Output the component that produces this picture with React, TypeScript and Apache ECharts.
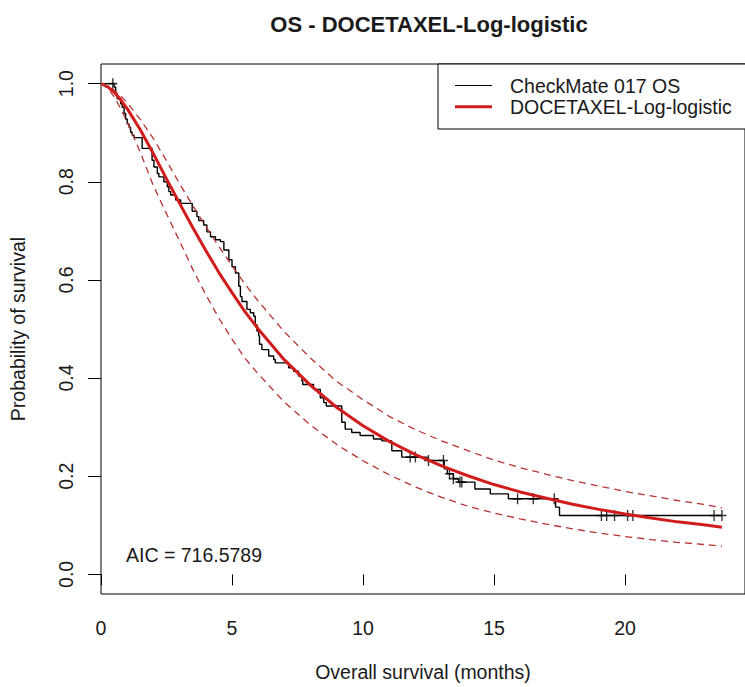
import React, { useEffect, useRef } from "react";
import * as echarts from "echarts";

const TITLE = "OS - DOCETAXEL-Log-logistic";
const X_NAME = "Overall survival (months)";
const Y_NAME = "Probability of survival";
const LEGEND_LABELS = ["CheckMate 017 OS", "DOCETAXEL-Log-logistic"];
const AIC_TEXT = "AIC = 716.5789";
const X_TICKS = [0, 5, 10, 15, 20];
const Y_TICKS = [0, 0.2, 0.4, 0.6, 0.8, 1.0];

// Kaplan-Meier steps (time in months, survival after the drop)
const kmTimes = [
  0, 0.5, 0.56, 0.62, 0.75, 0.81, 0.88, 0.94, 1.0, 1.07, 1.13, 1.19, 1.26, 1.57,
  1.95, 2.02, 2.15, 2.21, 2.4, 2.53, 2.59, 2.66, 2.85, 3.04, 3.48, 3.66, 3.73,
  3.92, 4.04, 4.18, 4.37, 4.56, 4.69, 4.88, 5.0, 5.13, 5.26, 5.32, 5.38, 5.57,
  5.7, 5.83, 5.89, 5.95, 6.02, 6.05, 6.14, 6.4, 6.59, 6.65, 7.16, 7.35, 7.54,
  7.67, 7.7, 8.11, 8.37, 8.5, 8.6, 9.19, 9.32, 9.57, 9.89, 10.4, 10.72, 11.1,
  11.48, 12.45, 13.1, 13.22, 13.45, 13.65, 14.27, 14.86, 15.55, 17.35, 17.5, 23.7,
];
const kmSurv = [
  1.0, 0.993, 0.979, 0.969, 0.959, 0.952, 0.939, 0.928, 0.918, 0.911, 0.901, 0.895,
  0.89, 0.868, 0.844, 0.83, 0.817, 0.81, 0.8, 0.79, 0.78, 0.773, 0.763, 0.756,
  0.74, 0.729, 0.721, 0.712, 0.698, 0.688, 0.682, 0.678, 0.661, 0.641, 0.627,
  0.614, 0.587, 0.566, 0.556, 0.54, 0.533, 0.526, 0.509, 0.496, 0.486, 0.469,
  0.458, 0.445, 0.438, 0.431, 0.421, 0.414, 0.404, 0.394, 0.387, 0.377, 0.36,
  0.35, 0.343, 0.31, 0.296, 0.289, 0.283, 0.276, 0.272, 0.252, 0.239, 0.232,
  0.215, 0.205, 0.195, 0.188, 0.174, 0.164, 0.154, 0.137, 0.12, 0.12,
];

// Censored observations
const censorTimes = [
  0.45, 11.8, 12.0, 12.5, 13.07, 13.3, 13.45, 13.7, 13.77, 15.9, 16.5, 17.3,
  19.1, 19.3, 19.6, 20.1, 20.3, 23.4, 23.7,
];
const censorSurv = [
  1.0, 0.239, 0.239, 0.232, 0.232, 0.205, 0.195, 0.188, 0.188, 0.154, 0.154, 0.154,
  0.12, 0.12, 0.12, 0.12, 0.12, 0.12, 0.12,
];

// Fitted log-logistic curve and its confidence band
const fitTimes = [
  0, 0.25, 0.5, 0.75, 1, 1.5, 2, 2.5, 3, 3.5, 4, 4.5, 5, 5.5, 6, 7, 8, 9, 10, 11,
  12, 13, 14, 15, 16, 17, 18, 19, 20, 21, 22, 23, 23.7,
];
const fitSurv = [
  1.0, 0.994, 0.983, 0.967, 0.949, 0.906, 0.857, 0.806, 0.756, 0.707, 0.66, 0.615,
  0.574, 0.535, 0.5, 0.437, 0.385, 0.34, 0.303, 0.271, 0.244, 0.221, 0.201, 0.183,
  0.168, 0.155, 0.143, 0.1325, 0.123, 0.115, 0.107, 0.101, 0.096,
];
const fitUpper = [
  1.0, 0.9955, 0.987, 0.975, 0.961, 0.927, 0.888, 0.843, 0.796, 0.752, 0.709, 0.668,
  0.629, 0.591, 0.557, 0.494, 0.4405, 0.393, 0.356, 0.322, 0.295, 0.272, 0.252,
  0.233, 0.2174, 0.204, 0.191, 0.18, 0.169, 0.16, 0.1505, 0.1425, 0.1355,
];
const fitLower = [
  1.0, 0.9906, 0.9737, 0.949, 0.922, 0.86, 0.792, 0.735, 0.679, 0.622, 0.57, 0.522,
  0.4795, 0.44, 0.4085, 0.351, 0.304, 0.2645, 0.2315, 0.203, 0.178, 0.157, 0.139,
  0.125, 0.113, 0.1025, 0.0927, 0.0844, 0.077, 0.071, 0.0653, 0.0609, 0.0577,
];

const FONT = "'Liberation Sans', Arial, sans-serif";
const TEXT_COLOR = "#1a1a1a";
const RED = "#d21c1c";
const RED_DASH = "#b83232";

const zip = (xs: number[], ys: number[]) => xs.map((x, i) => [x, ys[i]]);

export default function App() {
  const ref = useRef<HTMLDivElement>(null);

  useEffect(() => {
    if (!ref.current) return;
    const chart = echarts.init(ref.current, undefined, { renderer: "svg" });

    const option: any = {
      animation: false,
      backgroundColor: "#ffffff",
      textStyle: { fontFamily: FONT, color: TEXT_COLOR },
      title: {
        text: TITLE,
        left: 424,
        textAlign: "center",
        top: 8,
        textStyle: { fontFamily: FONT, fontSize: 22, fontWeight: "bold", color: TEXT_COLOR },
      },
      grid: {
        left: 101,
        top: 64,
        right: -1,
        bottom: 91,
        show: true,
        borderColor: "#000",
        borderWidth: 1,
        backgroundColor: "transparent",
      },
      xAxis: {
        type: "value",
        min: 0,
        max: 24.58,
        name: X_NAME,
        nameLocation: "middle",
        nameGap: 68,
        nameTextStyle: { fontFamily: FONT, fontSize: 19.5, color: TEXT_COLOR },
        axisLine: { show: false },
        splitLine: { show: false },
        axisTick: {
          show: true,
          length: 11,
          inside: false,
          customValues: X_TICKS,
          lineStyle: { color: "#000", width: 1 },
        },
        axisLabel: {
          customValues: X_TICKS,
          margin: 24,
          fontFamily: FONT,
          fontSize: 19.5,
          color: TEXT_COLOR,
          formatter: (v: number) => String(v),
        },
      },
      yAxis: {
        type: "value",
        min: -0.04,
        max: 1.04,
        name: Y_NAME,
        nameLocation: "middle",
        nameGap: 73,
        nameTextStyle: { fontFamily: FONT, fontSize: 19.5, color: TEXT_COLOR },
        axisLine: { show: false },
        splitLine: { show: false },
        axisTick: {
          show: true,
          length: 13,
          inside: false,
          customValues: Y_TICKS,
          lineStyle: { color: "#000", width: 1 },
        },
        axisLabel: {
          customValues: Y_TICKS,
          rotate: 90,
          margin: 25,
          fontFamily: FONT,
          fontSize: 19.5,
          color: TEXT_COLOR,
          formatter: (v: number) => v.toFixed(1),
        },
      },
      series: [
        {
          name: LEGEND_LABELS[0],
          type: "line",
          step: "end",
          data: zip(kmTimes, kmSurv),
          symbol: "none",
          lineStyle: { color: "#000", width: 1.4 },
          z: 2,
        },
        {
          name: "censored",
          type: "scatter",
          data: zip(censorTimes, censorSurv),
          symbol: "path://M5,0L5,10M0,5L10,5",
          symbolSize: [9, 11],
          itemStyle: { color: "transparent", borderColor: "#000", borderWidth: 1.5 },
          z: 3,
        },
        {
          name: LEGEND_LABELS[1],
          type: "line",
          data: zip(fitTimes, fitSurv),
          smooth: false,
          symbol: "none",
          lineStyle: { color: RED, width: 3, join: "round" },
          z: 4,
        },
        {
          name: "upper",
          type: "line",
          data: zip(fitTimes, fitUpper),
          smooth: false,
          symbol: "none",
          lineStyle: { color: RED_DASH, width: 1.3, type: [7, 5] },
          z: 4,
        },
        {
          name: "lower",
          type: "line",
          data: zip(fitTimes, fitLower),
          smooth: false,
          symbol: "none",
          lineStyle: { color: RED_DASH, width: 1.3, type: [7, 5] },
          z: 4,
        },
      ],
      graphic: [
        {
          type: "rect",
          z: 10,
          shape: { x: 438, y: 64, width: 340, height: 65 },
          style: { fill: "#ffffff", stroke: "#000", lineWidth: 1 },
        },
        {
          type: "line",
          z: 11,
          shape: { x1: 455, y1: 85.5, x2: 492, y2: 85.5 },
          style: { stroke: "#000", lineWidth: 1.2 },
        },
        {
          type: "line",
          z: 11,
          shape: { x1: 455, y1: 106.7, x2: 492, y2: 106.7 },
          style: { stroke: RED, lineWidth: 3 },
        },
        {
          type: "text",
          z: 11,
          x: 510,
          y: 85.5,
          style: {
            text: LEGEND_LABELS[0],
            fontFamily: FONT,
            fontSize: 19.5,
            fill: TEXT_COLOR,
            verticalAlign: "middle",
          },
        },
        {
          type: "text",
          z: 11,
          x: 510,
          y: 106.7,
          style: {
            text: LEGEND_LABELS[1],
            fontFamily: FONT,
            fontSize: 19.5,
            fill: TEXT_COLOR,
            verticalAlign: "middle",
          },
        },
        {
          type: "text",
          z: 11,
          x: 126,
          y: 554.5,
          style: {
            text: AIC_TEXT,
            fontFamily: FONT,
            fontSize: 19.5,
            fill: TEXT_COLOR,
            verticalAlign: "middle",
          },
        },
      ],
    };

    chart.setOption(option);
    return () => chart.dispose();
  }, []);

  return (
    <div
      ref={ref}
      style={{ position: "fixed", left: 0, top: 0, width: 745, height: 687, background: "#fff" }}
    />
  );
}
